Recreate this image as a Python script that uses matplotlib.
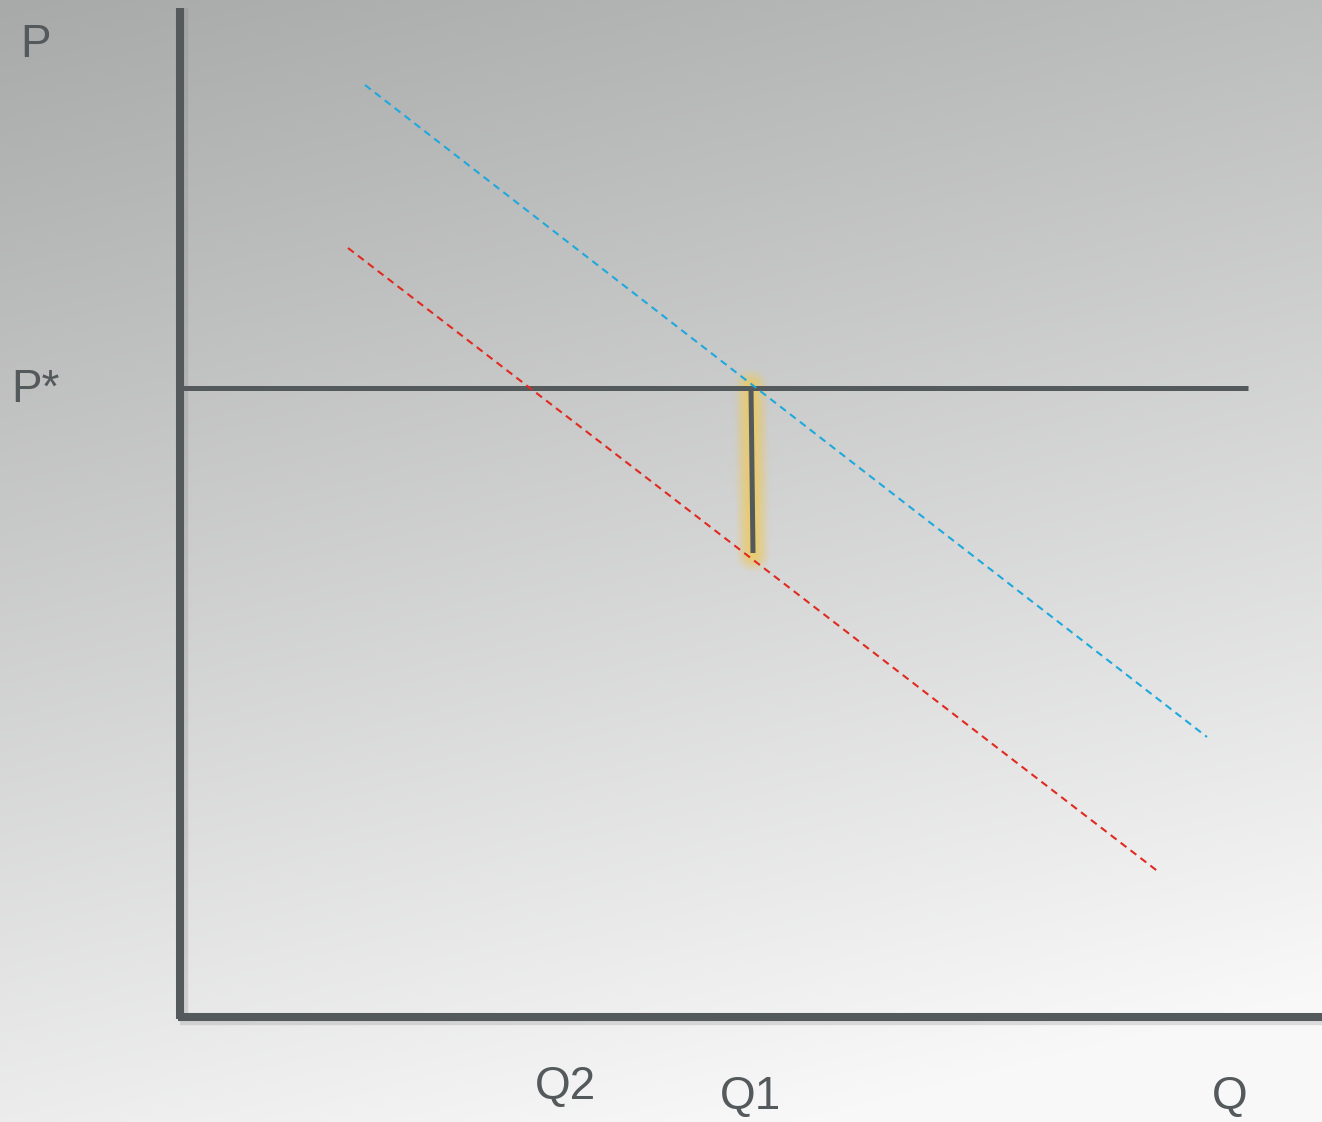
import numpy as np
import matplotlib
matplotlib.use("Agg")
import matplotlib.pyplot as plt

# --- data (diagram units: origin at the axes corner) ---
axis_q_max = 1142
axis_p_max = 1009
p_star = 629
p_star_q_range = [3, 1068]
demand_original_q = [185, 1027]   # blue dashed
demand_original_p = [932, 280]
demand_shifted_q = [168, 980]     # red dashed
demand_shifted_p = [769, 144]
gap_q = [571, 573]                # Q1 vertical gap segment
gap_p = [629, 464]

labels = {
    "P": (-145, 972),
    "P*": (-145, 627),
    "Q2": (385, -70),
    "Q1": (570, -80),
    "Q": (1050, -80),
}

fig = plt.figure(figsize=(13.22, 11.22), dpi=100)
ax = fig.add_axes([0, 0, 1, 1])
ax.set_xlim(-180, 1142)
ax.set_ylim(-105, 1017)
ax.axis("off")

# background gradient
h, w = 300, 350
yy, xx = np.mgrid[0:h, 0:w]
v = yy / (h - 1)
u = xx / (w - 1)
t = np.clip(0.85 * v + 0.25 * u, 0, 1)
top = np.array([168, 169, 169]) / 255
bot = np.array([248, 248, 248]) / 255
img = top[None, None, :] * (1 - t[..., None]) + bot[None, None, :] * t[..., None]
ax.imshow(img, extent=[-180, 1142, -105, 1017], origin="upper", aspect="auto", zorder=0)

axis_color = "#54595c"

# shadows on axes
ax.plot([4, 4], [-4, axis_p_max], color="#888888", lw=6, alpha=0.25, solid_capstyle="butt", zorder=1)
ax.plot([0, axis_q_max], [-4, -4], color="#888888", lw=6, alpha=0.25, solid_capstyle="butt", zorder=1)

# axes
ax.plot([0, 0], [-2, axis_p_max], color=axis_color, lw=5.8, solid_capstyle="butt", zorder=3)
ax.plot([-2, axis_q_max], [0, 0], color=axis_color, lw=5.8, solid_capstyle="butt", zorder=3)

# P* line
ax.plot(p_star_q_range, [p_star, p_star], color=axis_color, lw=3.6, solid_capstyle="butt", zorder=3)

# demand curves
ax.plot(demand_original_q, demand_original_p, color="#1ea9dd", lw=1.5,
        dashes=(3.5, 2.5), zorder=4)
ax.plot(demand_shifted_q, demand_shifted_p, color="#e02a1f", lw=1.5,
        dashes=(3.5, 2.5), zorder=4)

# glow around gap segment
glow_color = "#efca5a"
for lw_g, a in [(25, 0.08), (22, 0.10), (19, 0.13), (16, 0.17), (13, 0.22), (10, 0.28), (7, 0.3)]:
    ax.plot(gap_q, [gap_p[0] + 2, gap_p[1] - 2], color=glow_color, lw=lw_g, alpha=a,
            solid_capstyle="round", zorder=2)

# gap segment
ax.plot(gap_q, gap_p, color=axis_color, lw=3.6, solid_capstyle="butt", zorder=5)

# labels
text_color = "#54595c"
for name, (x, y) in labels.items():
    ax.text(x, y, name, ha="center", va="center", fontsize=33, color=text_color,
            family=["Liberation Sans", "DejaVu Sans"], zorder=6)

fig.savefig("out.png", dpi=100)
